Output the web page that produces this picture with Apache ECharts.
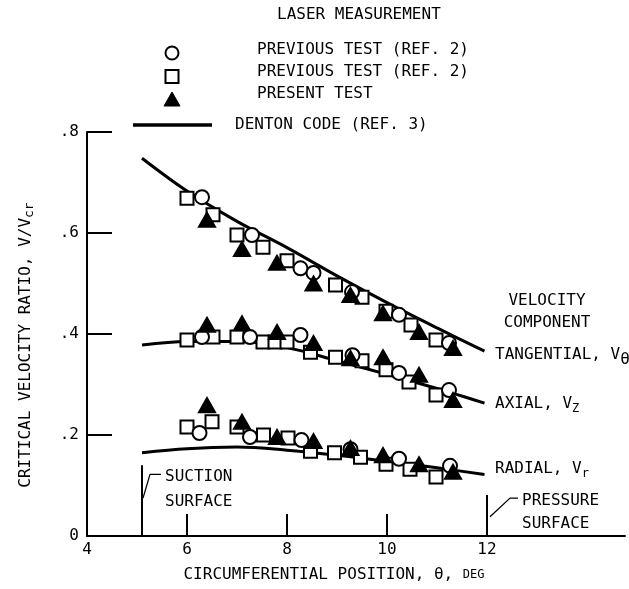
<!DOCTYPE html>
<html>
<head>
<meta charset="utf-8">
<script src="https://cdn.jsdelivr.net/npm/echarts@6/dist/echarts.min.js"></script>
<style>html,body{margin:0;padding:0;background:#fff;}#c{width:629px;height:589px;}</style>
</head>
<body>
<div id="c"></div>
<script>
// ---- Data ----
const thetaCurve = [5.1, 6, 7, 8, 9, 10, 11, 11.95];
const tangentialCurve = [0.748, 0.683, 0.623, 0.571, 0.515, 0.462, 0.412, 0.366];
const axialCurve = [0.378, 0.385, 0.385, 0.373, 0.347, 0.32, 0.292, 0.263];
const radialCurve = [0.165, 0.173, 0.176, 0.17, 0.16, 0.148, 0.135, 0.122];

const circleTangTheta = [6.3, 7.3, 8.27, 8.53, 9.3, 10.24, 11.24];
const circleTang = [0.671, 0.596, 0.53, 0.521, 0.483, 0.438, 0.382];
const circleAxialTheta = [6.3, 7.26, 8.27, 9.31, 10.24, 11.24];
const circleAxial = [0.394, 0.394, 0.398, 0.358, 0.323, 0.289];
const circleRadialTheta = [6.25, 7.26, 8.29, 9.27, 10.24, 11.26];
const circleRadial = [0.204, 0.196, 0.19, 0.172, 0.153, 0.139];

const squareTangTheta = [6.0, 6.52, 7.0, 7.52, 8.0, 8.97, 9.5, 9.98, 10.48, 10.98];
const squareTang = [0.669, 0.636, 0.596, 0.572, 0.545, 0.497, 0.473, 0.445, 0.418, 0.388];
const squareAxialTheta = [6.0, 6.52, 7.0, 7.52, 7.76, 8.0, 8.47, 8.97, 9.5, 9.98, 10.44, 10.98];
const squareAxial = [0.388, 0.394, 0.394, 0.384, 0.384, 0.384, 0.364, 0.354, 0.347, 0.329, 0.305, 0.279];
const squareRadialTheta = [6.0, 6.5, 7.0, 7.53, 8.02, 8.47, 8.95, 9.47, 9.98, 10.46, 10.98];
const squareRadial = [0.216, 0.226, 0.216, 0.2, 0.194, 0.168, 0.165, 0.156, 0.142, 0.132, 0.117];

const triangleTheta = [6.4, 7.1, 7.8, 8.53, 9.27, 9.92, 10.64, 11.32];
const triangleTang = [0.626, 0.568, 0.541, 0.50, 0.477, 0.441, 0.404, 0.372];
const triangleAxial = [0.418, 0.421, 0.404, 0.382, 0.352, 0.354, 0.319, 0.269];
const triangleRadial = [0.259, 0.226, 0.196, 0.188, 0.174, 0.16, 0.142, 0.127];

const xTicks = [6, 8, 10];
const xTickLabels = [4, 6, 8, 10, 12];
const suctionTheta = 5.1, pressureTheta = 12;
const suctionMarkerLine = [[5.1, 0], [5.1, 0.14]];
const suctionLeader = [[5.12, 0.075], [5.26, 0.122], [5.48, 0.122]];
const pressureMarkerLine = [[12, 0], [12, 0.081]];
const pressureLeader = [[12.06, 0.038], [12.46, 0.075], [12.62, 0.075]];

// ---- Build ----
const FONT = "'DejaVu Sans Mono', monospace";
const zip = (xs, ys) => xs.map((x, i) => [x, ys[i]]);

function curve(ys) {
  return { type: 'line', data: zip(thetaCurve, ys), smooth: 0.35, symbol: 'none',
    lineStyle: { color: '#000', width: 3 }, z: 2, animation: false };
}
function plain(d, w) {
  return { type: 'line', data: d, symbol: 'none', lineStyle: { color: '#000', width: w || 1.5 }, z: 2, animation: false };
}
function scat(d, sym, size, fill, z) {
  return { type: 'scatter', data: d, symbol: sym, symbolSize: size,
    itemStyle: { color: fill, borderColor: '#000', borderWidth: 2, opacity: 1 }, z: z, animation: false };
}

const series = [
  curve(tangentialCurve), curve(axialCurve), curve(radialCurve),
  plain(suctionMarkerLine, 2), plain(suctionLeader, 1.3),
  plain(pressureMarkerLine, 2), plain(pressureLeader, 1.3),
  scat(zip(squareTangTheta, squareTang), 'rect', 13, '#fff', 3),
  scat(zip(squareAxialTheta, squareAxial), 'rect', 13, '#fff', 3),
  scat(zip(squareRadialTheta, squareRadial), 'rect', 13, '#fff', 3),
  scat(zip(circleTangTheta, circleTang), 'circle', 14, '#fff', 4),
  scat(zip(circleAxialTheta, circleAxial), 'circle', 14, '#fff', 4),
  scat(zip(circleRadialTheta, circleRadial), 'circle', 14, '#fff', 4),
  scat(zip(triangleTheta, triangleTang), 'triangle', [16, 14], '#000', 5),
  scat(zip(triangleTheta, triangleAxial), 'triangle', [16, 14], '#000', 5),
  scat(zip(triangleTheta, triangleRadial), 'triangle', [16, 14], '#000', 5)
];

const txt = (x, y, text, extra) => Object.assign({ type: 'text', x: x, y: y,
  style: Object.assign({ text: text, fill: '#000', font: '16px ' + FONT, verticalAlign: 'middle' }, extra || {}) });

const chart = echarts.init(document.getElementById('c'), null, { renderer: 'canvas' });
chart.setOption({
  backgroundColor: '#fff',
  animation: false,
  grid: { left: 87, top: 132, width: 538, height: 404, containLabel: false },
  xAxis: {
    type: 'value', min: 4, max: 14.76,
    axisLine: { lineStyle: { color: '#000', width: 2 } },
    axisTick: { inside: true, length: 22, customValues: xTicks, lineStyle: { color: '#000', width: 2 } },
    axisLabel: { customValues: xTickLabels, color: '#000', fontFamily: FONT, fontSize: 16, margin: 6 },
    splitLine: { show: false }
  },
  yAxis: {
    type: 'value', min: 0, max: 0.8, interval: 0.2,
    axisLine: { show: true, lineStyle: { color: '#000', width: 2 } },
    axisTick: { show: true, inside: true, length: 25, lineStyle: { color: '#000', width: 2 } },
    axisLabel: { color: '#000', fontFamily: FONT, fontSize: 16, margin: 8,
      formatter: v => v === 0 ? '0' : String(Math.round(v * 10) / 10).replace(/^0/, '') },
    splitLine: { show: false }
  },
  series: series,
  graphic: [
    txt(277, 15, 'LASER MEASUREMENT'),
    { type: 'circle', shape: { cx: 172, cy: 53, r: 6.5 }, style: { fill: '#fff', stroke: '#000', lineWidth: 2 } },
    txt(257, 50, 'PREVIOUS TEST (REF. 2)'),
    { type: 'rect', shape: { x: 165.5, y: 70, width: 13, height: 13 }, style: { fill: '#fff', stroke: '#000', lineWidth: 2 } },
    txt(257, 72, 'PREVIOUS TEST (REF. 2)'),
    { type: 'polygon', shape: { points: [[172, 92], [180, 106], [164, 106]] }, style: { fill: '#000', stroke: '#000', lineWidth: 1 } },
    txt(257, 94, 'PRESENT TEST'),
    { type: 'line', shape: { x1: 133, y1: 125, x2: 212, y2: 125 }, style: { stroke: '#000', lineWidth: 3.5 } },
    txt(235, 125, 'DENTON CODE (REF. 3)'),
    txt(547, 301, 'VELOCITY', { align: 'center' }),
    txt(547, 323, 'COMPONENT', { align: 'center' }),
    { type: 'text', x: 495, y: 355, style: { text: 'TANGENTIAL, V{s|θ}', fill: '#000', font: '16px ' + FONT, verticalAlign: 'middle',
      rich: { s: { fontFamily: FONT, fontSize: 16, verticalAlign: 'top', padding: [10, 0, 0, 0] } } } },
    { type: 'text', x: 495, y: 404, style: { text: 'AXIAL, V{s|Z}', fill: '#000', font: '16px ' + FONT, verticalAlign: 'middle',
      rich: { s: { fontFamily: FONT, fontSize: 12, padding: [10, 0, 0, 0] } } } },
    { type: 'text', x: 495, y: 469, style: { text: 'RADIAL, V{s|r}', fill: '#000', font: '16px ' + FONT, verticalAlign: 'middle',
      rich: { s: { fontFamily: FONT, fontSize: 12, padding: [10, 0, 0, 0] } } } },
    txt(165, 477, 'SUCTION'),
    txt(165, 502, 'SURFACE'),
    txt(522, 501, 'PRESSURE'),
    txt(522, 524, 'SURFACE'),
    { type: 'text', x: 334, y: 575, style: { text: 'CIRCUMFERENTIAL POSITION, θ, {s|DEG}', fill: '#000', font: '16px ' + FONT,
      align: 'center', verticalAlign: 'middle', rich: { s: { fontFamily: FONT, fontSize: 12 } } } },
    { type: 'text', x: 26, y: 345, rotation: Math.PI / 2,
      style: { text: 'CRITICAL VELOCITY RATIO, V/V{s|cr}', fill: '#000', font: '16px ' + FONT, align: 'center', verticalAlign: 'middle',
        rich: { s: { fontFamily: FONT, fontSize: 13, padding: [8, 0, 0, 0] } } } }
  ]
});
</script>
</body>
</html>
